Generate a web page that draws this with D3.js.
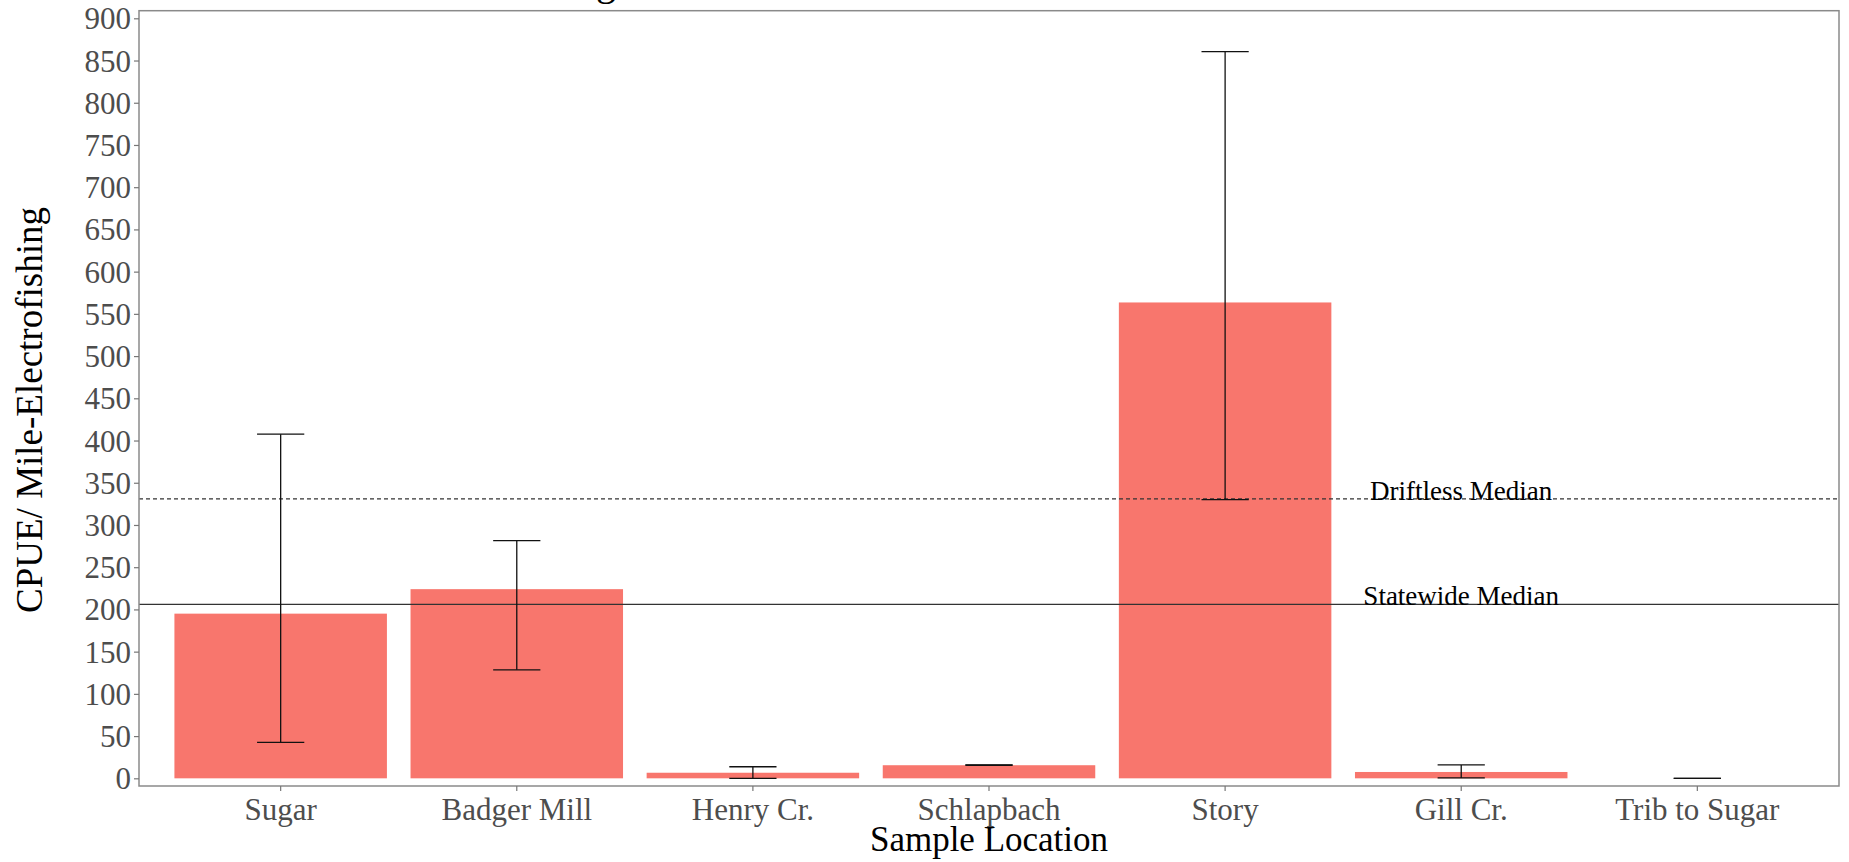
<!DOCTYPE html>
<html>
<head>
<meta charset="utf-8">
<script src="https://cdn.jsdelivr.net/npm/d3@7"></script>
<style>
    body { margin: 0; background: #fff; }
    svg { display: block; font-family: "Liberation Serif", "Times New Roman", serif; }
</style>
</head>
<body>
<div id="chart"></div>
<script>
// Data.
var locations = ["Sugar", "Badger Mill", "Henry Cr.", "Schlapbach", "Story", "Gill Cr.", "Trib to Sugar"];
var cpue = [195, 224, 6.6, 15.5, 563.5, 7.5, 0];
var cpueLow = [42.6, 128.5, 0, 15.5, 330, 0.5, 0];
var cpueHigh = [407.5, 281.5, 13.7, 15.8, 860.5, 15.8, 0];
var yTicks = [0, 50, 100, 150, 200, 250, 300, 350, 400, 450, 500, 550, 600, 650, 700, 750, 800, 850, 900];
var medians = [
    {label: "Driftless Median", value: 331, dash: "4,3"},
    {label: "Statewide Median", value: 206, dash: null}
];

var width = 1849, height = 862;
var panel = {left: 139, right: 1839, top: 10.7, bottom: 786};

var svg = d3.select("#chart").append("svg")
        .attr("width", width)
        .attr("height", height);

// Scales (discrete x with ggplot-like 0.6 expansion, continuous y).
var x = d3.scaleBand()
        .domain(locations)
        .range([panel.left, panel.right])
        .paddingInner(0.1)
        .paddingOuter(0.15);
var y = d3.scaleLinear()
        .domain([-9.1, 909])
        .range([panel.bottom, panel.top]);

var rows = locations.map(function(d, i) {
    return {name: d, mean: cpue[i], low: cpueLow[i], high: cpueHigh[i]};
});

// Cut-off title above the plot (only a descender is visible).
svg.append("text")
        .attr("x", 606)
        .attr("y", -5)
        .attr("text-anchor", "middle")
        .style("font-size", "40px")
        .text("g");

// Bars.
svg.append("g").selectAll("rect")
        .data(rows)
        .enter().append("rect")
        .attr("x", function(d) { return x(d.name); })
        .attr("y", function(d) { return y(Math.max(d.mean, 0)); })
        .attr("width", x.bandwidth())
        .attr("height", function(d) { return Math.abs(y(0) - y(d.mean)); })
        .style("fill", "#F8766D");

// Median reference lines and their labels.
var med = svg.append("g");
med.selectAll("line")
        .data(medians)
        .enter().append("line")
        .attr("x1", panel.left)
        .attr("x2", panel.right)
        .attr("y1", function(d) { return y(d.value); })
        .attr("y2", function(d) { return y(d.value); })
        .style("stroke", "#333")
        .style("stroke-width", 1.3)
        .style("stroke-dasharray", function(d) { return d.dash; });
med.selectAll("text")
        .data(medians)
        .enter().append("text")
        .attr("x", x("Gill Cr.") + x.bandwidth() / 2)
        .attr("y", function(d) { return y(d.value) + 1; })
        .attr("text-anchor", "middle")
        .style("font-size", "27px")
        .style("fill", "#000")
        .text(function(d) { return d.label; });

// Error bars.
var capW = x.step() * 0.2;
var err = svg.append("g").selectAll("g")
        .data(rows)
        .enter().append("g")
        .attr("transform", function(d) { return "translate(" + (x(d.name) + x.bandwidth() / 2) + ",0)"; })
        .style("stroke", "#111")
        .style("stroke-width", 1.3);
err.append("line")
        .attr("y1", function(d) { return y(d.low); })
        .attr("y2", function(d) { return y(d.high); });
err.append("line")
        .attr("x1", -capW / 2).attr("x2", capW / 2)
        .attr("y1", function(d) { return y(d.high); })
        .attr("y2", function(d) { return y(d.high); });
err.append("line")
        .attr("x1", -capW / 2).attr("x2", capW / 2)
        .attr("y1", function(d) { return y(d.low); })
        .attr("y2", function(d) { return y(d.low); });

// Panel border.
svg.append("rect")
        .attr("x", panel.left)
        .attr("y", panel.top)
        .attr("width", panel.right - panel.left)
        .attr("height", panel.bottom - panel.top)
        .style("fill", "none")
        .style("stroke", "#8a8a8a")
        .style("stroke-width", 1.5);

// Axes.
var yAxis = svg.append("g")
        .attr("transform", "translate(" + panel.left + ",0)")
        .call(d3.axisLeft(y).tickValues(yTicks).tickSize(5).tickPadding(3));
var xAxis = svg.append("g")
        .attr("transform", "translate(0," + panel.bottom + ")")
        .call(d3.axisBottom(x).tickSize(5).tickPadding(4));
[yAxis, xAxis].forEach(function(a) {
    a.select(".domain").remove();
    a.selectAll("line").style("stroke", "#777").style("stroke-width", 1.2);
    a.selectAll("text")
            .style("font-family", "'Liberation Serif', 'Times New Roman', serif")
            .style("font-size", "31px")
            .style("fill", "#4d4d4d");
});
yAxis.selectAll("text").attr("dy", "0.34em");
xAxis.selectAll("text").attr("dy", "0.8em");

// Axis titles.
svg.append("text")
        .attr("x", (panel.left + panel.right) / 2)
        .attr("y", 851)
        .attr("text-anchor", "middle")
        .style("font-size", "35px")
        .text("Sample Location");
svg.append("text")
        .attr("transform", "translate(42,410) rotate(-90)")
        .attr("text-anchor", "middle")
        .style("font-size", "37px")
        .text("CPUE/ Mile-Electrofishing");
</script>
</body>
</html>
